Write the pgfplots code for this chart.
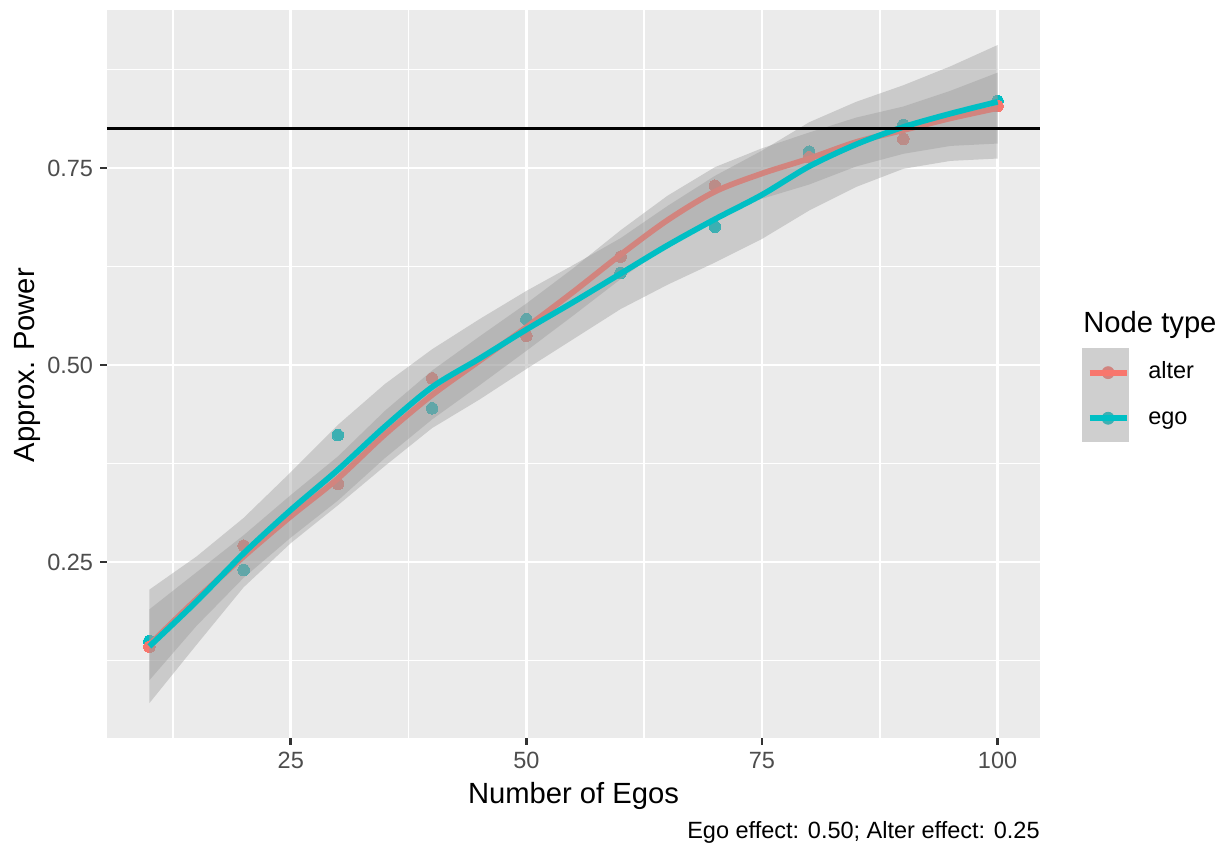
\documentclass[border=0pt]{standalone}
\usepackage{fontspec}
\setmainfont{Liberation Sans}
\usepackage{pgfplots}
\pgfplotsset{compat=1.18}
\usepackage{pgfplotstable}
\definecolor{alterc}{HTML}{F8766D}
\definecolor{egoc}{HTML}{00BFC4}
\definecolor{panelbg}{HTML}{EBEBEB}
\definecolor{bandc}{HTML}{999999}
\definecolor{tickc}{HTML}{333333}
\definecolor{ticklab}{HTML}{4D4D4D}
\definecolor{keybg}{HTML}{CFCFCF}
\definecolor{altermuted}{HTML}{D2847F}
\definecolor{egomuted}{HTML}{3DB0B3}

% fitted curves
\pgfplotstableread{
x alter ego
10 0.145 0.143
15 0.203 0.200
20 0.257 0.261
25 0.308 0.316
30 0.356 0.367
35 0.412 0.422
40 0.462 0.472
45 0.505 0.508
50 0.548 0.545
55 0.593 0.580
60 0.640 0.616
65 0.684 0.652
70 0.720 0.685
75 0.743 0.716
80 0.762 0.752
85 0.783 0.780
90 0.798 0.802
95 0.813 0.819
100 0.826 0.834
}\smooths

% confidence band of alter: upper edge forward, lower edge back
\pgfplotstableread{
x y
10 0.190
15 0.237
20 0.284
25 0.335
30 0.384
35 0.442
40 0.493
45 0.536
50 0.578
55 0.623
60 0.671
65 0.715
70 0.751
75 0.775
80 0.795
85 0.814
90 0.828
95 0.848
100 0.871
100 0.781
95 0.778
90 0.768
85 0.752
80 0.729
75 0.711
70 0.689
65 0.653
60 0.609
55 0.563
50 0.518
45 0.474
40 0.431
35 0.382
30 0.328
25 0.281
20 0.230
15 0.169
10 0.100
}\bandalter

% confidence band of ego
\pgfplotstableread{
x y
10 0.215
15 0.257
20 0.306
25 0.364
30 0.424
35 0.476
40 0.520
45 0.558
50 0.594
55 0.627
60 0.661
65 0.702
70 0.740
75 0.772
80 0.808
85 0.834
90 0.855
95 0.879
100 0.906
100 0.762
95 0.759
90 0.749
85 0.726
80 0.696
75 0.660
70 0.630
65 0.602
60 0.571
55 0.533
50 0.495
45 0.456
40 0.420
35 0.372
30 0.322
25 0.274
20 0.218
15 0.145
10 0.071
}\bandego

\pgfplotstableread{
x alter ego
10 0.1425 0.1497
20 0.2707 0.2399
30 0.349 0.411
40 0.483 0.445
50 0.537 0.558
60 0.6375 0.617
70 0.7275 0.6755
80 0.7635 0.7707
90 0.7868 0.8046
100 0.8287 0.835
}\pts

\newcommand{\ticksize}{\fontsize{11.75bp}{14bp}\selectfont}
\newcommand{\titlesize}{\fontsize{14.6bp}{17bp}\selectfont}

\begin{document}
\begin{tikzpicture}
% legend key background
\fill[keybg] (487.35bp,194.85bp) rectangle (511.15bp,148.15bp);
\begin{axis}[
  scale only axis, width=466.5bp, height=364bp,
  at={(0,0)}, anchor=south west,
  xmin=5.5, xmax=104.5, ymin=0.0267, ymax=0.9505,
  clip marker paths=true,
  axis background/.style={fill=panelbg},
  axis line style={draw=none},
  grid=both,
  major grid style={white, line width=1.42bp},
  minor grid style={white, line width=0.71bp},
  xtick={25,50,75,100}, xticklabels={25,50,75,100},
  minor xtick={12.5,37.5,62.5,87.5},
  ytick={0.25,0.5,0.75}, yticklabels={0.25,0.50,0.75},
  minor ytick={0.125,0.375,0.625,0.875},
  tick align=outside, xtick pos=bottom, ytick pos=left,
  major tick length=3.3bp, minor tick length=0pt,
  tick style={color=tickc, line width=1.35bp},
  xticklabel style={font=\ticksize, text=ticklab, inner sep=0pt, anchor=north, yshift=-3.5bp},
  yticklabel style={font=\ticksize, text=ticklab, inner sep=0pt, anchor=east, xshift=-3.5bp},
  xlabel={Number of Egos},
  xlabel style={font=\titlesize, at={(axis description cs:0.5,-0.0893)}, anchor=base, inner sep=0pt},
  ylabel={Approx. Power},
  ylabel style={font=\titlesize, at={(axis description cs:-0.0782,0.512)}, anchor=base, inner sep=0pt},
  legend style={at={(axis description cs:1.050,0.4705)}, anchor=west, draw=none, fill=none,
    inner sep=0pt, outer sep=0pt, row sep=11.7bp, column sep=9.35bp,
    nodes={inner sep=0pt, font=\ticksize, text height=8.6bp, text depth=2.5bp}},
  legend cell align=left,
]
% points (drawn under the bands)
\addplot[egoc, only marks, mark=*, mark size=2.9bp, mark options={draw=egoc, fill=egoc, line width=0pt}, forget plot] table[x=x,y=ego]{\pts};
\addplot[alterc, only marks, mark=*, mark size=2.9bp, mark options={draw=alterc, fill=alterc, line width=0pt}, forget plot] table[x=x,y=alter]{\pts};
% alter band and line
\addplot[fill=bandc, fill opacity=0.4, draw=none, no marks, forget plot] table[x=x,y=y]{\bandalter} -- cycle;
\addplot[alterc, line width=2.85bp, smooth, no marks, forget plot] table[x=x,y=alter]{\smooths};
% ego band and line
\addplot[fill=bandc, fill opacity=0.4, draw=none, no marks, forget plot] table[x=x,y=y]{\bandego} -- cycle;
\addplot[egoc, line width=2.85bp, smooth, no marks, forget plot] table[x=x,y=ego]{\smooths};
% horizontal reference line
\addplot[black, line width=1.5bp, no marks, forget plot] coordinates {(5.5,0.8) (104.5,0.8)};

\addlegendimage{legend image code/.code={\fill[altermuted] (9.3bp,0bp) circle (3bp); \draw[alterc, line width=2.85bp] (0bp,0bp) -- (18.6bp,0bp);}}
\addlegendentry{alter}
\addlegendimage{legend image code/.code={\fill[egomuted] (9.3bp,0bp) circle (3bp); \draw[egoc, line width=2.85bp] (0bp,0bp) -- (18.6bp,0bp);}}
\addlegendentry{ego}
\end{axis}
\node[anchor=base west, inner sep=0pt, font=\titlesize] at (488bp,202.5bp) {Node type};
\node[anchor=base east, inner sep=0pt, font=\ticksize] at (466.5bp,-50bp) {Ego effect: 0.50; Alter effect: 0.25};
\pgfresetboundingbox
\useasboundingbox (-53.5bp,-53.5bp) rectangle (557.5bp,369bp);
\end{tikzpicture}
\end{document}
